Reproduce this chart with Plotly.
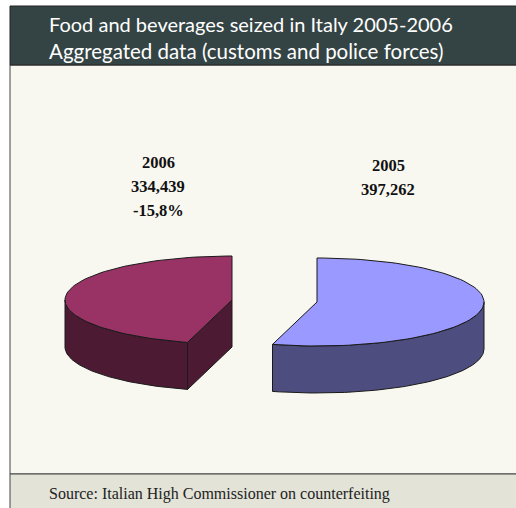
import numpy as np
import plotly.graph_objects as go

# Seizure totals by year
years = ["2005", "2006"]
seized = [397262, 334439]
change_label = "-15,8%"

title_lines = ["Food and beverages seized in Italy 2005-2006",
               "Aggregated data (customs and police forces)"]
source_text = "Source: Italian High Commissioner on counterfeiting"

W, H = 516, 508
RX, RY, DEPTH = 167, 44, 47
CENTRES = {"2005": (317, 302), "2006": (232, 300)}
TOP = {"2005": "#9999FF", "2006": "#993366"}
SIDE = {"2005": "#4D4D80", "2006": "#4D1A33"}
OUTLINE = "#1a1a1a"

share_2005 = seized[0] / sum(seized)
split = np.pi / 2 - 2 * np.pi * share_2005  # where the two slices meet


def rim(cx, cy, a0, a1, n=90):
    t = np.linspace(a0, a1, n)
    return cx + RX * np.cos(t), cy - RY * np.sin(t)


def poly(fig, xs, ys, color):
    fig.add_trace(go.Scatter(
        x=list(xs) + [xs[0]], y=list(ys) + [ys[0]], mode="lines", fill="toself",
        fillcolor=color, line=dict(color=OUTLINE, width=1), hoverinfo="skip"))


def wall(fig, cx, cy, a0, a1, color):
    x, y = rim(cx, cy, a0, a1)
    poly(fig, np.r_[x, x[::-1]], np.r_[y, y[::-1] + DEPTH], color)


fig = go.Figure()

# 2006 slice: curved wall, cut face, then top
cx, cy = CENTRES["2006"]
wall(fig, cx, cy, np.pi, split + 2 * np.pi, SIDE["2006"])
ex, ey = rim(cx, cy, split, split, 1)
poly(fig, [ex[0], cx, cx, ex[0]], [ey[0], cy, cy + DEPTH, ey[0] + DEPTH], SIDE["2006"])
x, y = rim(cx, cy, np.pi / 2, split + 2 * np.pi)
poly(fig, np.r_[cx, x], np.r_[cy, y], TOP["2006"])

# 2005 slice: curved wall, then top
cx, cy = CENTRES["2005"]
wall(fig, cx, cy, split, 0, SIDE["2005"])
x, y = rim(cx, cy, np.pi / 2, split)
poly(fig, np.r_[cx, x], np.r_[cy, y], TOP["2005"])

# Panels behind the chart
panels = [
    (10, 65, W + 2, 474, "#F8F7F0", "#444444"),
    (10, 6, W + 2, 65, "#344444", "#222222"),
    (10, 474, W + 2, H + 2, "#E3E3D7", "#444444"),
]
shapes = [dict(type="rect", x0=a, y0=b, x1=c, y1=d, fillcolor=f,
               line=dict(color=l, width=1), layer="below")
          for a, b, c, d, f, l in panels]


def text(x, y, s, font, color, size, bold=False, anchor="center"):
    return dict(x=x, y=y, text=f"<b>{s}</b>" if bold else s, showarrow=False,
                xanchor=anchor, yanchor="middle", xref="x", yref="y",
                font=dict(family=font, color=color, size=size))


SERIF = "Liberation Serif"
notes = [
    text(47, 24, title_lines[0], "Lato", "#FFFFFF", 20, anchor="left"),
    text(47, 51, title_lines[1], "Lato", "#FFFFFF", 20.5, anchor="left"),
    text(47, 494, source_text, SERIF, "#222222", 16, anchor="left"),
    text(158, 162, years[1], SERIF, "#111111", 16.5, True),
    text(158, 186, f"{seized[1]:,}", SERIF, "#111111", 16.5, True),
    text(158, 210, change_label, SERIF, "#111111", 16.5, True),
    text(388, 165, years[0], SERIF, "#111111", 16.5, True),
    text(388, 189, f"{seized[0]:,}", SERIF, "#111111", 16.5, True),
]

fig.update_layout(
    width=W, height=H, margin=dict(l=0, r=0, t=0, b=0), showlegend=False,
    paper_bgcolor="#FFFFFF", plot_bgcolor="#FFFFFF",
    xaxis=dict(range=[0, W], visible=False, fixedrange=True),
    yaxis=dict(range=[H, 0], visible=False, fixedrange=True),
    shapes=shapes, annotations=notes,
)
fig.write_html("out.html", config={"displayModeBar": False})
